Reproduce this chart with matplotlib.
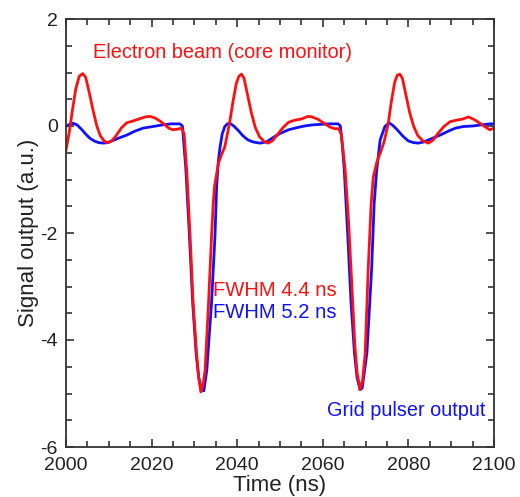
import matplotlib
matplotlib.use("Agg")
import matplotlib.pyplot as plt
from matplotlib.ticker import MultipleLocator

plt.rcParams['font.family'] = ['Liberation Sans', 'DejaVu Sans']
plt.rcParams['axes.unicode_minus'] = False

# Electron beam (core monitor) - red
red_t = [2000, 2000.8, 2001.5, 2002.3, 2003.1, 2003.9, 2004.6, 2005.5, 2006.3, 2007.2,
         2008.0, 2009.0, 2009.9, 2010.8, 2011.8, 2013.0, 2014.2, 2015.5, 2017.0, 2018.5,
         2019.6, 2020.8, 2022.0, 2023.0, 2024.0, 2025.0, 2026.0, 2027.0, 2027.6, 2028.2,
         2029.0, 2029.7, 2030.5, 2031.0, 2031.5, 2032.0, 2032.5, 2033.3, 2034.0, 2034.4,
         2034.7, 2035.6, 2036.4, 2037.1, 2037.7, 2038.3, 2039.0, 2039.8, 2040.4, 2041.0,
         2041.6, 2042.5, 2043.3, 2044.2, 2045.2, 2046.3, 2047.3, 2048.3, 2049.5, 2050.7,
         2052.0, 2053.5, 2055.0, 2056.5, 2057.5, 2059.0, 2060.5, 2061.7, 2062.7, 2063.7,
         2064.3, 2065.2, 2066.0, 2066.8, 2067.5, 2068.0, 2068.7, 2069.3, 2069.9, 2070.6,
         2071.3, 2071.8, 2072.6, 2073.4, 2074.3, 2075.3, 2076.0, 2076.8, 2077.4, 2078.0,
         2078.6, 2079.5, 2080.3, 2081.2, 2082.2, 2083.4, 2084.7, 2085.8, 2087.0, 2088.3,
         2089.7, 2091.3, 2092.7, 2094.0, 2095.4, 2096.7, 2098.0, 2099.0, 2100.0]
red_v = [-0.45, -0.10, 0.30, 0.70, 0.93, 0.98, 0.91, 0.60, 0.30, 0.00,
         -0.18, -0.29, -0.31, -0.27, -0.17, -0.03, 0.06, 0.09, 0.13, 0.17,
         0.18, 0.15, 0.09, 0.03, -0.04, -0.07, -0.06, -0.04, -0.15, -0.82,
         -2.07, -3.31, -4.25, -4.70, -4.97, -4.85, -4.56, -3.31, -2.07, -1.45,
         -1.13, -0.70, -0.52, -0.39, -0.15, 0.10, 0.45, 0.80, 0.93, 0.97,
         0.89, 0.55, 0.25, -0.02, -0.20, -0.29, -0.32, -0.27, -0.15, -0.03,
         0.07, 0.11, 0.13, 0.18, 0.17, 0.12, 0.04, -0.02, -0.05, -0.05,
         -0.15, -0.80, -1.76, -3.00, -4.12, -4.60, -4.93, -4.75, -4.25, -2.69,
         -1.45, -0.95, -0.68, -0.51, -0.30, 0.05, 0.45, 0.82, 0.95, 0.97,
         0.89, 0.55, 0.25, 0.00, -0.18, -0.28, -0.32, -0.26, -0.13, -0.01,
         0.08, 0.11, 0.13, 0.17, 0.12, 0.05, -0.02, -0.07, -0.04]

# Grid pulser output - blue
blue_t = [2000, 2000.8, 2001.7, 2002.6, 2003.6, 2004.6, 2005.6, 2006.6, 2007.6, 2008.7,
          2009.8, 2011.0, 2012.5, 2014.2, 2016.0, 2018.0, 2020.3, 2022.5, 2024.5, 2026.6,
          2027.2, 2027.5, 2028.0, 2028.8, 2029.6, 2030.4, 2031.0, 2031.7, 2032.2, 2032.9,
          2034.0, 2034.8, 2035.2, 2035.6, 2036.0, 2036.5, 2037.1, 2037.7, 2038.3, 2039.2,
          2040.2, 2041.3, 2042.5, 2043.8, 2045.3, 2046.8, 2048.3, 2050.0, 2052.0, 2054.0,
          2055.7, 2057.5, 2059.3, 2061.5, 2063.6, 2064.1, 2064.5, 2065.0, 2065.8, 2066.6,
          2067.4, 2068.0, 2068.7, 2069.2, 2070.3, 2071.4, 2072.0, 2072.6, 2073.4, 2074.5,
          2075.2, 2075.7, 2076.5, 2077.5, 2078.7, 2080.0, 2081.2, 2082.3, 2083.5, 2085.0,
          2087.4, 2089.5, 2091.0, 2092.8, 2095.0, 2097.0, 2099.0, 2100.0]
blue_v = [-0.01, 0.03, 0.05, 0.02, -0.06, -0.15, -0.23, -0.28, -0.31, -0.32,
          -0.31, -0.27, -0.22, -0.17, -0.10, -0.04, -0.01, 0.02, 0.04, 0.04,
          0.00, -0.30, -0.80, -2.00, -3.30, -4.25, -4.70, -4.93, -4.95, -4.56,
          -3.31, -2.07, -1.13, -0.65, -0.39, -0.15, -0.01, 0.04, 0.05, 0.00,
          -0.08, -0.18, -0.26, -0.30, -0.32, -0.30, -0.22, -0.14, -0.07, -0.03,
          0.00, 0.02, 0.03, 0.04, 0.04, 0.00, -0.30, -0.80, -2.00, -3.30,
          -4.25, -4.70, -4.93, -4.90, -4.25, -2.69, -1.45, -0.82, -0.26, -0.01,
          0.04, 0.05, 0.00, -0.08, -0.19, -0.28, -0.31, -0.32, -0.30, -0.25,
          -0.17, -0.09, -0.04, -0.01, 0.00, 0.02, 0.04, 0.04]

x_ticks = [2000, 2020, 2040, 2060, 2080, 2100]
y_ticks = [-6, -4, -2, 0, 2]

fig = plt.figure(figsize=(5.20, 4.97), dpi=100)
ax = fig.add_axes([66/520, 1 - 447/497, (494-66)/520, (447-19)/497])

ax.plot(blue_t, blue_v, color='#1010ff', lw=2.0, solid_joinstyle='round')
ax.plot(red_t, red_v, color='#ff1010', lw=2.0, solid_joinstyle='round')

ax.set_xlim(2000, 2100)
ax.set_ylim(-6, 2)
ax.set_xticks(x_ticks)
ax.set_yticks(y_ticks)
ax.set_yticklabels([str(v) for v in y_ticks])
ax.xaxis.set_minor_locator(MultipleLocator(5))
ax.yaxis.set_minor_locator(MultipleLocator(0.5))
ax.tick_params(which='both', direction='in', top=True, right=True, colors='#222222',
               labelcolor='#222222', width=1.1)
ax.tick_params(which='major', length=6, labelsize=14)
ax.tick_params(axis='x', which='major', pad=7)
ax.tick_params(axis='y', which='major', pad=6)
ax.tick_params(which='minor', length=4)
for s in ax.spines.values():
    s.set_color('#333333')
    s.set_linewidth(1.3)

ax.set_xlabel('Time (ns)', fontsize=16, color='#222222', labelpad=1)
ax.set_ylabel('Signal output (a.u.)', fontsize=16, color='#222222', labelpad=1)

ax.text(2006.4, 1.37, 'Electron beam (core monitor)', color='#ff1010', fontsize=14.4,
        va='center', ha='left')
ax.text(2034.3, -3.07, 'FWHM 4.4 ns', color='#ff1010', fontsize=14.6, va='center', ha='left')
ax.text(2034.3, -3.48, 'FWHM 5.2 ns', color='#1010ff', fontsize=14.6, va='center', ha='left')
ax.text(2061.0, -5.31, 'Grid pulser output', color='#1010ff', fontsize=14.3,
        va='center', ha='left')

fig.savefig('out.png', dpi=100)
